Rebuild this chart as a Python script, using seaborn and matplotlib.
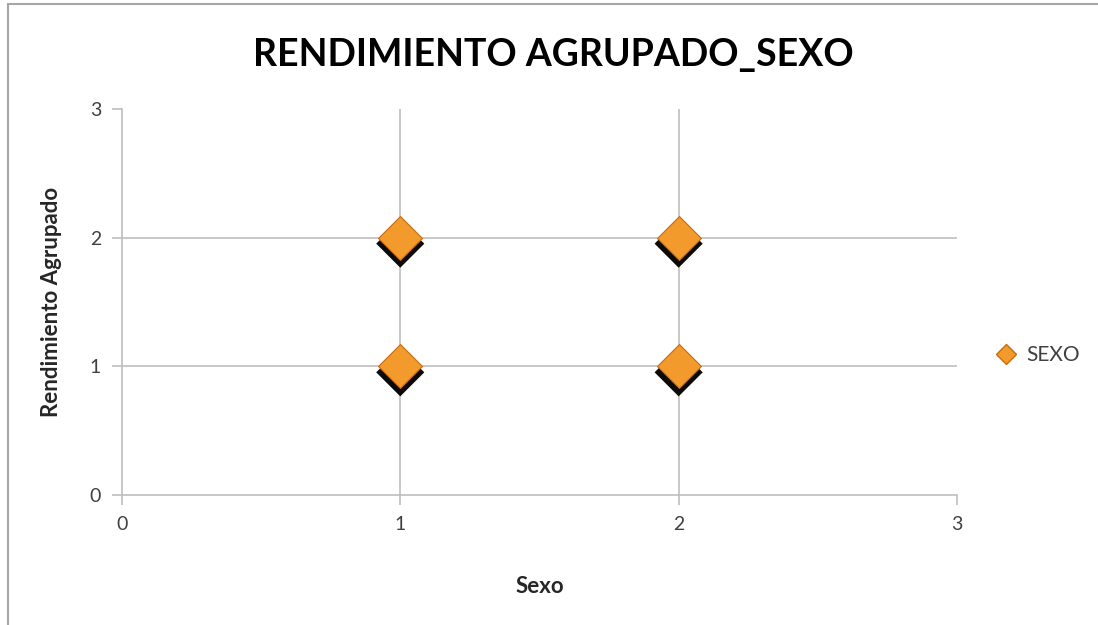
import seaborn as sns
import matplotlib.pyplot as plt
import matplotlib.transforms as mtransforms
import pandas as pd
from matplotlib.lines import Line2D
from matplotlib.patches import Rectangle

# Datos
sexo = [1, 1, 2, 2]
rendimiento = [1, 2, 1, 2]
df = pd.DataFrame({"Sexo": sexo, "Rendimiento Agrupado": rendimiento})

sns.set_theme(style="white")
plt.rcParams['font.family'] = ['Lato', 'DejaVu Sans']

fig = plt.figure(figsize=(10.98, 6.25), dpi=100)
ax = fig.add_axes([0.111, 0.208, 0.7606, 0.6176])

gris = "#bfbfbf"
for v in [1, 2]:
    ax.axhline(v, color=gris, linewidth=1.2, zorder=0)
    ax.axvline(v, color=gris, linewidth=1.2, zorder=0)

# sombra negra debajo del marcador
sombra = mtransforms.offset_copy(ax.transData, fig=fig, x=0, y=-6, units='dots')
sns.scatterplot(data=df, x="Sexo", y="Rendimiento Agrupado", marker="D", s=600,
                color="#0a0a0a", edgecolor="none", ax=ax, transform=sombra, zorder=2)
sns.scatterplot(data=df, x="Sexo", y="Rendimiento Agrupado", marker="D", s=500,
                color="#f39a2c", edgecolor="#c86a10", linewidth=0.8, ax=ax, zorder=3)

ax.set_xlim(0, 3)
ax.set_ylim(0, 3)
ax.set_xticks([0, 1, 2, 3])
ax.set_yticks([0, 1, 2, 3])
for s in ["top", "right"]:
    ax.spines[s].set_visible(False)
for s in ["left", "bottom"]:
    ax.spines[s].set_color(gris)
    ax.spines[s].set_linewidth(1.2)
ax.tick_params(axis="both", direction="out", length=7, width=1.2, color=gris,
               labelsize=14, labelcolor="#404040", pad=8, left=True, bottom=True)

ax.set_xlabel("Sexo", fontsize=16, fontweight="bold", color="#262626", labelpad=31)
ax.set_ylabel("Rendimiento Agrupado", fontsize=16, fontweight="bold", color="#262626", labelpad=20)
fig.suptitle("RENDIMIENTO AGRUPADO_SEXO", x=0.504, y=0.912, va="center", fontsize=27,
             fontweight="bold", color="#000000")

handle = Line2D([], [], marker="D", linestyle="none", markersize=10,
                markerfacecolor="#f39a2c", markeredgecolor="#c86a10")
fig.legend([handle], ["SEXO"], loc="center left", bbox_to_anchor=(0.88, 0.432),
           frameon=False, fontsize=15, handletextpad=0.0, labelcolor="#404040")

# borde del gráfico
fig.patches.append(Rectangle((0.0075, -0.05), 1.1, 1.043, transform=fig.transFigure,
                             fill=False, edgecolor="#a6a6a6", linewidth=1.5))

plt.savefig("out.png", dpi=100)
